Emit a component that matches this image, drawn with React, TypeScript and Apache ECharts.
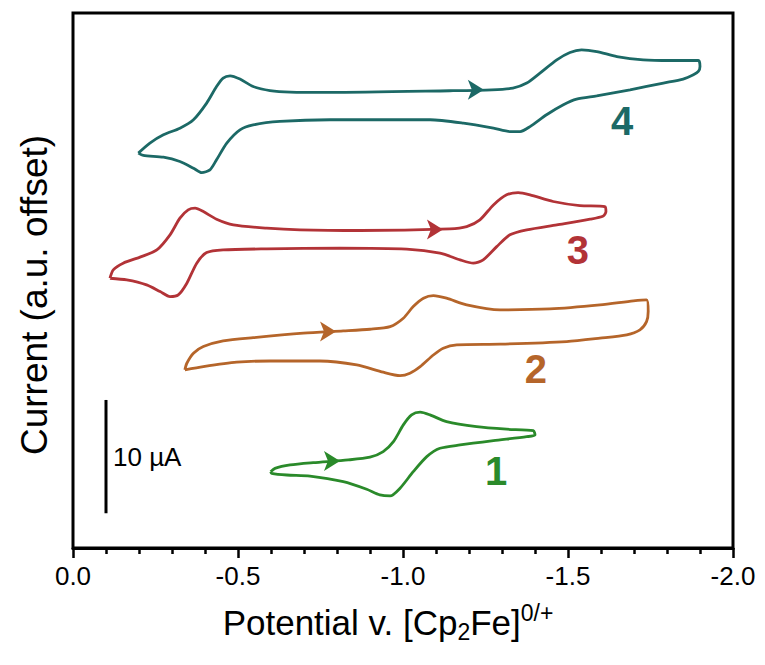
import React, { useEffect, useRef } from "react";
import * as echarts from "echarts";

// Potential (V vs Cp2Fe 0/+) and current (µA, offset)
const cv1: [number, number][] = [
  [-0.599, 6.73], [-0.612, 7.03], [-0.658, 7.33], [-0.728, 7.53], [-0.834, 7.77], [-0.9, 8.01],
  [-0.94, 8.5], [-0.971, 9.38], [-1.001, 10.86], [-1.026, 11.74], [-1.052, 11.98], [-1.082, 11.74],
  [-1.132, 11.15], [-1.223, 10.71], [-1.314, 10.48], [-1.395, 10.35], [-1.4, 9.97], [-1.375, 9.82],
  [-1.274, 9.47], [-1.173, 9.09], [-1.112, 8.8], [-1.072, 8.06], [-1.031, 6.73], [-0.991, 5.27],
  [-0.961, 4.59], [-0.93, 4.68], [-0.89, 5.18], [-0.819, 5.85], [-0.718, 6.35], [-0.648, 6.44],
  [-0.602, 6.59], [-0.599, 6.73],
];

const cv2: [number, number][] = [
  [-0.339, 15.71], [-0.345, 16.3], [-0.365, 17.18], [-0.395, 17.77], [-0.455, 18.27], [-0.546, 18.56],
  [-0.698, 18.95], [-0.819, 19.15], [-0.9, 19.3], [-0.961, 19.53], [-1.001, 20.27], [-1.031, 21.3],
  [-1.062, 22.04], [-1.092, 22.27], [-1.132, 22.04], [-1.193, 21.45], [-1.294, 21.01], [-1.445, 21.09],
  [-1.597, 21.45], [-1.698, 21.8], [-1.738, 21.89], [-1.743, 20.86], [-1.738, 19.97], [-1.718, 19.24],
  [-1.678, 18.8], [-1.597, 18.51], [-1.496, 18.21], [-1.294, 17.98], [-1.163, 17.92], [-1.122, 17.63],
  [-1.092, 17.03], [-1.052, 16.0], [-1.021, 15.42], [-0.991, 15.21], [-0.94, 15.51], [-0.86, 16.15],
  [-0.748, 16.5], [-0.597, 16.5], [-0.496, 16.39], [-0.395, 16.0], [-0.339, 15.71],
];

const cv3: [number, number][] = [
  [-0.112, 23.8], [-0.122, 24.54], [-0.152, 25.13], [-0.203, 25.66], [-0.254, 26.3], [-0.294, 27.63],
  [-0.324, 29.1], [-0.349, 29.83], [-0.37, 29.98], [-0.395, 29.68], [-0.435, 29.01], [-0.486, 28.51],
  [-0.587, 28.22], [-0.688, 28.07], [-0.87, 28.01], [-1.142, 28.16], [-1.193, 28.36], [-1.233, 28.95],
  [-1.274, 30.27], [-1.314, 31.16], [-1.349, 31.36], [-1.385, 31.16], [-1.455, 30.57], [-1.536, 30.21],
  [-1.612, 30.12], [-1.615, 29.68], [-1.607, 29.3], [-1.567, 29.01], [-1.466, 28.51], [-1.375, 28.07],
  [-1.324, 27.63], [-1.284, 26.59], [-1.243, 25.42], [-1.213, 25.13], [-1.173, 25.42], [-1.112, 26.01],
  [-1.011, 26.36], [-0.809, 26.45], [-0.587, 26.39], [-0.455, 26.3], [-0.405, 26.06], [-0.375, 25.13],
  [-0.345, 23.36], [-0.319, 22.33], [-0.294, 22.18], [-0.264, 22.62], [-0.223, 23.21], [-0.163, 23.65],
  [-0.112, 23.8],
];

const cv4: [number, number][] = [
  [-0.198, 34.84], [-0.233, 35.72], [-0.274, 36.45], [-0.324, 37.04], [-0.365, 37.78], [-0.405, 39.25],
  [-0.435, 40.71], [-0.455, 41.46], [-0.476, 41.66], [-0.506, 41.37], [-0.546, 40.71], [-0.597, 40.36],
  [-0.658, 40.22], [-0.779, 40.19], [-1.142, 40.34], [-1.269, 40.42], [-1.333, 40.57], [-1.375, 41.02],
  [-1.415, 41.9], [-1.466, 43.07], [-1.506, 43.72], [-1.541, 43.95], [-1.587, 43.8], [-1.648, 43.36],
  [-1.728, 43.07], [-1.809, 43.01], [-1.895, 43.01], [-1.9, 42.48], [-1.895, 42.04], [-1.88, 41.75],
  [-1.849, 41.37], [-1.789, 41.02], [-1.688, 40.42], [-1.587, 39.89], [-1.526, 39.6], [-1.486, 39.1],
  [-1.435, 38.22], [-1.385, 37.18], [-1.355, 36.74], [-1.324, 36.74], [-1.274, 37.04], [-1.183, 37.48],
  [-1.082, 37.78], [-0.779, 37.78], [-0.627, 37.63], [-0.546, 37.33], [-0.506, 36.89], [-0.466, 35.72],
  [-0.435, 34.25], [-0.415, 33.36], [-0.39, 33.12], [-0.365, 33.51], [-0.324, 34.1], [-0.274, 34.48],
  [-0.213, 34.63], [-0.198, 34.84],
];

const traceNames = ["1", "2", "3", "4"];
const traceColors = ["#2a8a2a", "#b5652a", "#b23337", "#1c6966"];
// scan-direction arrow positions (V, µA)
const arrowPoints: [number, number][] = [
  [-0.809, 7.68], [-0.797, 19.11], [-1.121, 28.11], [-1.245, 40.42],
];
// compound label positions (V, µA)
const labelPoints: [number, number][] = [
  [-1.282, 6.8], [-1.403, 15.8], [-1.53, 26.3], [-1.664, 37.69],
];
// scale bar: 10 µA
const scaleBarPotential = -0.1;
const scaleBarCurrent: [number, number] = [3.06, 13.06];
const scaleBarText = "10 µA";

const xTickLabels = ["-2.0", "-1.5", "-1.0", "-0.5", "0.0"];

const FONT = "'Liberation Sans', Arial, Helvetica, sans-serif";

export default function App() {
  const ref = useRef<HTMLDivElement>(null);

  useEffect(() => {
    document.body.style.margin = "0";
    if (!ref.current) return;
    const chart = echarts.init(ref.current, undefined, { renderer: "svg" });
    const traces = [cv1, cv2, cv3, cv4];

    const lineSeries = traces.map((d, i) => ({
      type: "line",
      name: traceNames[i],
      data: d,
      symbol: "none",
      showSymbol: false,
      smooth: 0.25,
      lineStyle: { color: traceColors[i], width: 2.8 },
      z: 3,
    }));

    const option: any = {
      animation: false,
      textStyle: { fontFamily: FONT },
      grid: {
        left: 73,
        right: 32,
        top: 13,
        bottom: 117,
        show: true,
        borderColor: "#000",
        borderWidth: 3,
      },
      xAxis: {
        type: "value",
        min: -2,
        max: 0,
        interval: 0.5,
        inverse: true,
        axisLine: { show: true, lineStyle: { color: "#000", width: 3 } },
        axisTick: { show: true, inside: false, length: 10, lineStyle: { color: "#000", width: 2.5 } },
        minorTick: { show: true, splitNumber: 5, length: 6, lineStyle: { color: "#000", width: 2.5 } },
        splitLine: { show: false },
        minorSplitLine: { show: false },
        axisLabel: {
          show: true,
          showMinLabel: true,
          showMaxLabel: true,
          formatter: (v: number) => {
            const idx = Math.round((v + 2) / 0.5);
            return xTickLabels[idx] ?? v.toFixed(1);
          },
          fontSize: 26,
          color: "#000",
          margin: 15,
          fontFamily: FONT,
        },
        name: "{a|Potential v. [Cp}{s|2}{a|Fe]}{p|0/+}",
        nameLocation: "middle",
        nameGap: 53,
        nameTextStyle: {
          color: "#000",
          fontSize: 35,
          fontFamily: FONT,
          padding: [0, 30, 0, 0],
          rich: {
            a: { fontSize: 35, color: "#000", fontFamily: FONT },
            s: { fontSize: 23, color: "#000", fontFamily: FONT, padding: [18, 0, 0, 0] },
            p: { fontSize: 23, color: "#000", fontFamily: FONT, padding: [0, 0, 20, 0] },
          },
        },
      },
      yAxis: {
        type: "value",
        min: 0,
        max: 47.2,
        axisLine: { show: false },
        axisTick: { show: false },
        axisLabel: { show: false },
        splitLine: { show: false },
        name: "Current (a.u. offset)",
        nameLocation: "middle",
        nameRotate: 90,
        nameGap: 20,
        nameTextStyle: { color: "#000", fontSize: 37, fontFamily: FONT, padding: [0, 29, 0, 0] },
      },
      series: [
        ...lineSeries,
        {
          type: "scatter",
          name: "arrows",
          symbol: "arrow",
          symbolRotate: -90,
          symbolSize: [15, 16],
          itemStyle: { opacity: 1 },
          data: arrowPoints.map((p, i) => ({ value: p, itemStyle: { color: traceColors[i], opacity: 1 } })),
          z: 4,
        },
        {
          type: "scatter",
          name: "labels",
          symbolSize: 0,
          itemStyle: { opacity: 1 },
          data: labelPoints.map((p, i) => ({
            value: p,
            label: {
              show: true,
              position: "inside",
              formatter: traceNames[i],
              color: traceColors[i],
              fontSize: 40,
              fontWeight: "bold",
              fontFamily: FONT,
            },
          })),
          z: 5,
        },
        {
          type: "line",
          name: "scale bar",
          data: [
            [scaleBarPotential, scaleBarCurrent[0]],
            [scaleBarPotential, scaleBarCurrent[1]],
          ],
          symbol: "none",
          lineStyle: { color: "#000", width: 3 },
          z: 3,
        },
        {
          type: "scatter",
          name: "scale label",
          symbolSize: 0,
          itemStyle: { opacity: 1 },
          data: [
            {
              value: [scaleBarPotential, (scaleBarCurrent[0] + scaleBarCurrent[1]) / 2],
              label: {
                show: true,
                position: "right",
                distance: 7,
                formatter: scaleBarText,
                color: "#000",
                fontSize: 26,
                fontFamily: FONT,
              },
            },
          ],
          z: 5,
        },
      ],
    };
    chart.setOption(option);
    return () => chart.dispose();
  }, []);

  return <div ref={ref} style={{ width: 765, height: 665 }} />;
}
